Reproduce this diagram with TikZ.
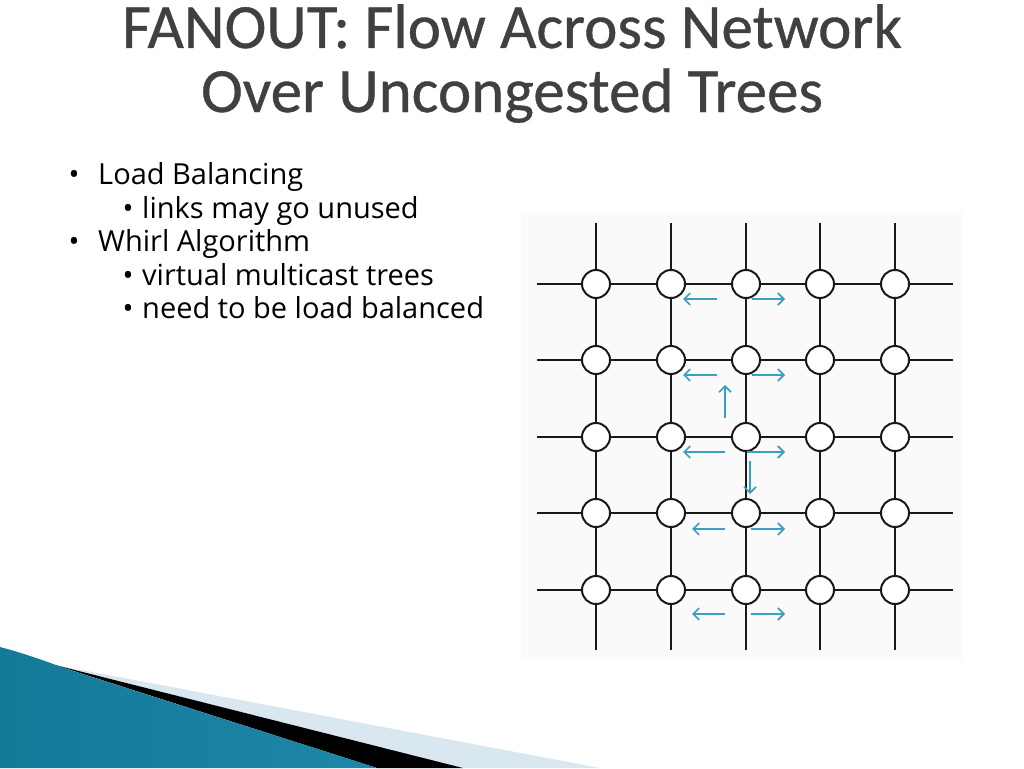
\documentclass[tikz,border=0pt]{standalone}
\usepackage{fontspec}
\setmainfont{Open Sans}
\newfontfamily\titlefont[FakeBold=0.6]{Carlito}
\usetikzlibrary{arrows.meta, positioning}

\definecolor{titlegray}{HTML}{404040}
\definecolor{flowblue}{HTML}{3A9FC2}
\definecolor{paleband}{HTML}{D8E7F0}
\definecolor{tealdark}{HTML}{137A98}
\definecolor{teallight}{HTML}{52B6D8}
\definecolor{tealmid}{HTML}{1E86A8}
\definecolor{scanbg}{HTML}{FAFAFA}

\begin{document}
\begin{tikzpicture}[x=1pt, y=-1pt]
    \tikzstyle{vertex} = [circle, draw=black!90, line width=2pt, fill=white, minimum size=28pt, inner sep=0pt]
    \tikzstyle{link} = [draw=black!90, line width=2pt]
    \tikzstyle{flow} = [flowblue, line width=1.7pt, -{Straight Barb[length=6pt, width=12pt]}]
    \tikzstyle{headline} = [anchor=base, inner sep=0pt, text=titlegray, font=\titlefont\fontsize{63}{70}\selectfont]
    \tikzstyle{bodytext} = [anchor=base west, inner sep=0pt, font=\fontsize{29}{34}\selectfont]
    \tikzstyle{dot} = [anchor=base, inner sep=0pt, font=\fontsize{29}{34}\selectfont]

    \useasboundingbox (0,0) rectangle (1024,768);

    % corner swoosh
    \fill[paleband] (55,665) -- (600,768) -- (463,768) -- cycle;
    \fill[black] (55,665) -- (463,768) -- (377,768) -- cycle;
    \shade[left color=tealdark, middle color=teallight, right color=tealmid]
        (0,647) .. controls (30,655) and (50,663) .. (70,670) -- (377,768) -- (0,768) -- cycle;

    % title
    \node (title1) [headline] at (512,48) {FANOUT: Flow Across Network};
    \node (title2) [headline] at (512,112) {Over Uncongested Trees};

    % bullets
    \node (d1) [dot] at (74,184) {•};
    \node (b1) [bodytext] at (98,184) {Load Balancing};
    \node (d2) [dot] at (128,218) {•};
    \node (b2) [bodytext] at (142,218) {links may go unused};
    \node (d3) [dot] at (74,251) {•};
    \node (b3) [bodytext] at (98,251) {Whirl Algorithm};
    \node (d4) [dot] at (128,285) {•};
    \node (b4) [bodytext] at (142,285) {virtual multicast trees};
    \node (d5) [dot] at (128,318) {•};
    \node (b5) [bodytext] at (142,318) {need to be load balanced};

    % mesh
    \fill[scanbg] (521,212) rectangle (962,660);
    \foreach \r/\y in {1/284, 2/360, 3/437, 4/513, 5/590} {
        \foreach \c/\x in {1/596, 2/671, 3/746, 4/820, 5/895} {
            \node (n\r\c) [vertex] at (\x,\y) {};
        }
        \coordinate (w\r) at (537,\y);
        \coordinate (e\r) at (953,\y);
    }
    \foreach \c/\x in {1/596, 2/671, 3/746, 4/820, 5/895} {
        \coordinate (t\c) at (\x,223);
        \coordinate (s\c) at (\x,650);
    }
    \foreach \r in {1,...,5} {
        \draw [link] (w\r) -- (n\r1);
        \draw [link] (n\r5) -- (e\r);
        \draw [link] (t\r) -- (n1\r);
        \draw [link] (n5\r) -- (s\r);
    }
    \foreach \a/\b in {1/2, 2/3, 3/4, 4/5} {
        \foreach \k in {1,...,5} {
            \draw [link] (n\k\a) -- (n\k\b);
            \draw [link] (n\a\k) -- (n\b\k);
        }
    }

    % whirl flows
    \foreach \y/\a/\b/\c in {299/717/752/683, 375/717/752/683, 452/725/747/683, 529/725/751/692, 614/725/751/692} {
        \draw [flow] (\a,\y) -- (\c,\y);
        \draw [flow] (\b,\y) -- (785,\y);
    }
    \draw [flow] (725,418) -- (725,385);
    \draw [flow] (750,461) -- (750,494);
\end{tikzpicture}
\end{document}
